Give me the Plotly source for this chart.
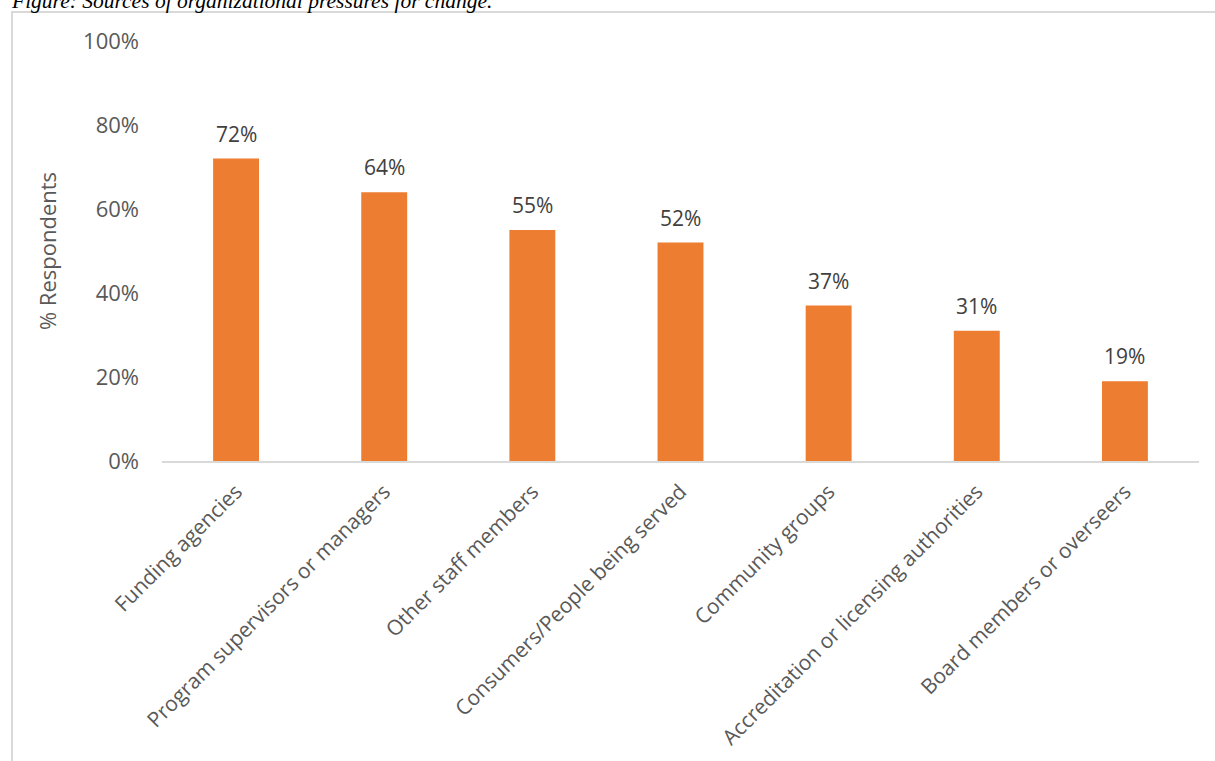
import plotly.graph_objects as go

# Survey results: share of respondents naming each source of pressure
categories = [
    "Funding agencies",
    "Program supervisors or managers",
    "Other staff members",
    "Consumers/People being served",
    "Community groups",
    "Accreditation or licensing authorities",
    "Board members or overseers",
]
percent_values = [72, 64, 55, 52, 37, 31, 19]
y_tick_values = [0, 20, 40, 60, 80, 100]
y_tick_labels = ["0%", "20%", "40%", "60%", "80%", "100%"]

W, H = 1215, 761
L, R, T, B = 162, 1199, 41, 461  # plot area in pixels

def px_x(x):
    return (x - L) / (R - L)

def px_y(y):
    return (B - y) / (B - T)

BAR = "#ED7D31"
TICK = "#595959"
LABEL = "#404040"
FONT = "Open Sans"

fig = go.Figure()
fig.add_trace(go.Bar(
    x=categories,
    y=percent_values,
    marker=dict(color=BAR, line=dict(width=0)),
    width=0.31,
    hoverinfo="skip",
))

# value labels above each bar
for cat, v in zip(categories, percent_values):
    fig.add_annotation(
        x=cat, y=v, xref="x", yref="y",
        text=f"{v}%", showarrow=False,
        yanchor="bottom", yshift=9,
        font=dict(family=FONT, size=21, color=LABEL),
    )

# figure caption (partly clipped at the page top)
fig.add_annotation(
    x=px_x(9), y=px_y(1), xref="paper", yref="paper",
    text="<i>Figure: Sources of organizational pressures for change.</i>",
    showarrow=False, xanchor="left", yanchor="middle",
    font=dict(family="Liberation Serif", size=21.5, color="#000000"),
)

# chart frame
fig.add_shape(
    type="rect", xref="paper", yref="paper",
    x0=px_x(12), x1=px_x(1240), y0=px_y(790), y1=px_y(12),
    line=dict(color="#d9d9d9", width=2), fillcolor="rgba(0,0,0,0)",
    layer="below",
)

fig.update_layout(
    width=W, height=H,
    margin=dict(l=L, r=W - R, t=T, b=H - B, pad=0),
    paper_bgcolor="white", plot_bgcolor="white",
    showlegend=False,
    font=dict(family=FONT, size=21, color=TICK),
    xaxis=dict(
        tickangle=-45,
        showline=True, linecolor="#d9d9d9", linewidth=2,
        showgrid=False, ticks="", ticklen=0,
        ticklabelstandoff=8,
        tickfont=dict(family=FONT, size=21, color=TICK),
        fixedrange=True,
    ),
    yaxis=dict(
        range=[0, 100],
        tickvals=y_tick_values, ticktext=y_tick_labels,
        showgrid=False, zeroline=False, showline=False,
        ticks="", ticklabelstandoff=22,
        tickfont=dict(family=FONT, size=22, color=TICK),
        title=dict(text="% Respondents", standoff=20,
                   font=dict(family=FONT, size=22, color=TICK)),
        fixedrange=True,
    ),
)

fig.write_html("out.html")
